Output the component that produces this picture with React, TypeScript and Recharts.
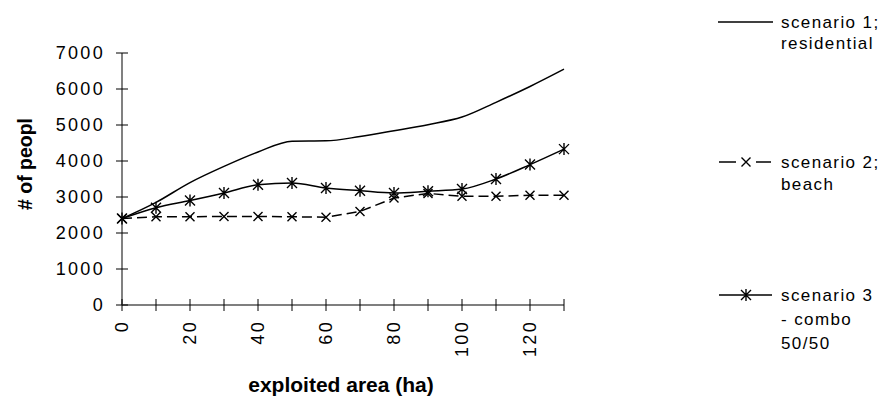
import React from 'react'
import { LineChart, Line, XAxis, YAxis } from 'recharts'

const FONT = '"Liberation Sans", Arial, sans-serif'

const areaHa = [0, 10, 20, 30, 40, 50, 60, 70, 80, 90, 100, 110, 120, 130]
const scenario1 = [2400, 2850, 3400, 3850, 4250, 4550, 4560, 4680, 4840, 5010, 5220, 5630, 6070, 6550]
const scenario2 = [2400, 2450, 2450, 2460, 2460, 2450, 2440, 2600, 2970, 3100, 3020, 3020, 3050, 3050]
const scenario3 = [2400, 2700, 2900, 3110, 3340, 3390, 3250, 3175, 3110, 3160, 3220, 3500, 3900, 4330]
const yTicks = [0, 1000, 2000, 3000, 4000, 5000, 6000, 7000]

const data = areaHa.map((a, i) => ({
  area: a,
  s1: scenario1[i],
  s2: scenario2[i],
  s3: scenario3[i],
}))

// X marker used for scenario 2
const CrossDot = (props: any) => {
  const { cx, cy } = props
  if (cx == null || cy == null) return null
  const r = 4.5
  return (
    <path
      d={`M${cx - r},${cy - r}L${cx + r},${cy + r}M${cx - r},${cy + r}L${cx + r},${cy - r}`}
      stroke="#000"
      strokeWidth={1.4}
      fill="none"
    />
  )
}

// asterisk marker used for scenario 3
const StarDot = (props: any) => {
  const { cx, cy } = props
  if (cx == null || cy == null) return null
  const r = 5
  return (
    <path
      d={`M${cx - r},${cy - r}L${cx + r},${cy + r}M${cx - r},${cy + r}L${cx + r},${cy - r}M${cx},${cy - r - 1}L${cx},${cy + r + 1}`}
      stroke="#000"
      strokeWidth={1.4}
      fill="none"
    />
  )
}

const YTick = (props: any) => {
  const { x, y, payload } = props
  return (
    <g>
      <line x1={x - 6} x2={x + 6} y1={y} y2={y} stroke="#000" />
      <text
        x={x - 17}
        y={y}
        dy="0.35em"
        textAnchor="end"
        fontSize={18}
        letterSpacing={2.3}
        fontFamily={FONT}
        fill="#000"
      >
        {payload.value}
      </text>
    </g>
  )
}

const XTick = (props: any) => {
  const { x, y, payload } = props
  return (
    <g>
      <line x1={x} x2={x} y1={y - 6} y2={y + 6} stroke="#000" />
      {payload.value % 20 === 0 && (
        <text
          transform={`translate(${x},${y + 15}) rotate(-90)`}
          dy="0.35em"
          textAnchor="end"
          fontSize={18}
          letterSpacing={2.3}
          fontFamily={FONT}
          fill="#000"
        >
          {payload.value}
        </text>
      )}
    </g>
  )
}

function LegendAndTitles() {
  const txt = { fontSize: 17, fontFamily: FONT, fill: '#000', letterSpacing: 1.4 }
  return (
    <svg width={881} height={399} style={{ position: 'absolute', left: 0, top: 0, pointerEvents: 'none' }}>
      {/* axis titles */}
      <text
        transform="translate(25,164) rotate(-90)"
        textAnchor="middle"
        dy="0.35em"
        fontSize={19.5}
        fontWeight="bold"
        fontFamily={FONT}
        fill="#000"
      >
        # of peopl
      </text>
      <text x={341} y={392} textAnchor="middle" fontSize={21} fontWeight="bold" fontFamily={FONT} fill="#000">
        exploited area (ha)
      </text>

      {/* scenario 1 */}
      <line x1={718} x2={773} y1={22} y2={22} stroke="#000" strokeWidth={1.5} />
      <text x={781} y={22} dy="0.35em" {...txt}>scenario 1;</text>
      <text x={781} y={43} dy="0.35em" {...txt}>residential</text>

      {/* scenario 2 */}
      <line x1={719} x2={736} y1={162} y2={162} stroke="#000" strokeWidth={1.5} />
      <CrossDot cx={746} cy={162} />
      <line x1={756} x2={771} y1={162} y2={162} stroke="#000" strokeWidth={1.5} />
      <text x={781} y={162} dy="0.35em" {...txt}>scenario 2;</text>
      <text x={781} y={184} dy="0.35em" {...txt}>beach</text>

      {/* scenario 3 */}
      <line x1={719} x2={772} y1={295} y2={295} stroke="#000" strokeWidth={1.5} />
      <StarDot cx={746} cy={295} />
      <text x={781} y={295} dy="0.35em" {...txt}>scenario 3</text>
      <text x={781} y={319} dy="0.35em" {...txt}>- combo</text>
      <text x={781} y={343} dy="0.35em" {...txt}>50/50</text>
    </svg>
  )
}

export default function App() {
  return (
    <div style={{ position: 'absolute', left: 0, top: 0, width: 881, height: 399, background: '#fff' }}>
      <LineChart width={881} height={399} data={data} margin={{ top: 53, right: 317, bottom: 0, left: 0 }}>
        <XAxis
          dataKey="area"
          type="number"
          domain={[0, 130]}
          ticks={areaHa}
          interval={0}
          height={94}
          axisLine={{ stroke: '#000', strokeWidth: 1.2 }}
          tickLine={false}
          tickSize={0}
          tickMargin={0}
          tick={<XTick />}
        />
        <YAxis
          type="number"
          domain={[0, 7000]}
          ticks={yTicks}
          interval={0}
          width={122}
          axisLine={{ stroke: '#808080', strokeWidth: 2 }}
          tickLine={false}
          tickSize={0}
          tickMargin={0}
          tick={<YTick />}
        />
        <Line
          type="monotone"
          dataKey="s1"
          stroke="#000"
          strokeWidth={1.5}
          dot={false}
          isAnimationActive={false}
        />
        <Line
          type="linear"
          dataKey="s2"
          stroke="#000"
          strokeWidth={1.5}
          strokeDasharray="10 5"
          dot={<CrossDot />}
          isAnimationActive={false}
        />
        <Line
          type="monotone"
          dataKey="s3"
          stroke="#000"
          strokeWidth={1.5}
          dot={<StarDot />}
          isAnimationActive={false}
        />
      </LineChart>
      <LegendAndTitles />
    </div>
  )
}
